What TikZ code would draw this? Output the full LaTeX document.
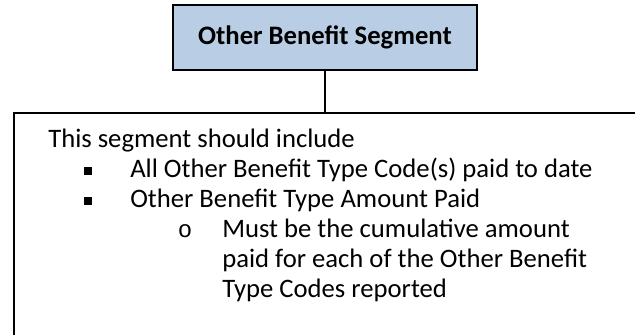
\documentclass[tikz,border=0pt]{standalone}
\usepackage{fontspec}
\setmainfont{Carlito}
\newfontfamily\markfont{Liberation Mono}
\usetikzlibrary{positioning}
\definecolor{SegBlue}{RGB}{185,205,229}

\begin{document}
\begin{tikzpicture}[x=0.75pt, y=-0.75pt,
        % Style hộp tiêu đề (Xanh nhạt)
        segbox/.style={draw=black, line width=1.4pt, fill=SegBlue, font=\fontsize{20}{24}\selectfont\bfseries, minimum width=228pt, minimum height=48.75pt, inner sep=0pt},
        % Style hộp nội dung
        infobox/.style={draw=black, line width=1.4pt, fill=white, anchor=north west, minimum width=520pt, minimum height=260pt, inner sep=0pt},
        % Style cạnh
        edge/.style={draw=black, line width=1.4pt},
        % Style dòng chữ
        txt/.style={font=\fontsize{20}{24}\selectfont, anchor=base west, inner sep=0pt},
        % Style dấu đầu dòng
        sqmark/.style={rectangle, fill=black, minimum size=6.3pt, inner sep=0pt},
        rndmark/.style={font=\fontsize{18}{22}\markfont, anchor=base, inner sep=0pt}
    ]
    \useasboundingbox (0,0) rectangle (635,335);

    % --- HỘP ---
    \node[infobox] (body) at (13,112) {};
    \node[segbox] (title) at (325,37.5) {Other Benefit Segment};

    % --- CẠNH ---
    \draw[edge] (title.south) -- (title.south |- body.north);

    % --- NỘI DUNG ---
    \node[txt] (intro) at (48,147) {This segment should include};

    \node[sqmark] (m1) at (88,171) {};
    \node[txt] (item1) at (130,177) {All Other Benefit Type Code(s) paid to date};
    \node[sqmark] (m2) at (88,201) {};
    \node[txt] (item2) at (130,207) {Other Benefit Type Amount Paid};

    \node[rndmark] (m3) at (185,237) {o};
    \node[txt] (sub1) at (222,237) {Must be the cumulative amount};
    \node[txt] (sub2) at (222,267) {paid for each of the Other Benefit};
    \node[txt] (sub3) at (222,297) {Type Codes reported};
\end{tikzpicture}
\end{document}
